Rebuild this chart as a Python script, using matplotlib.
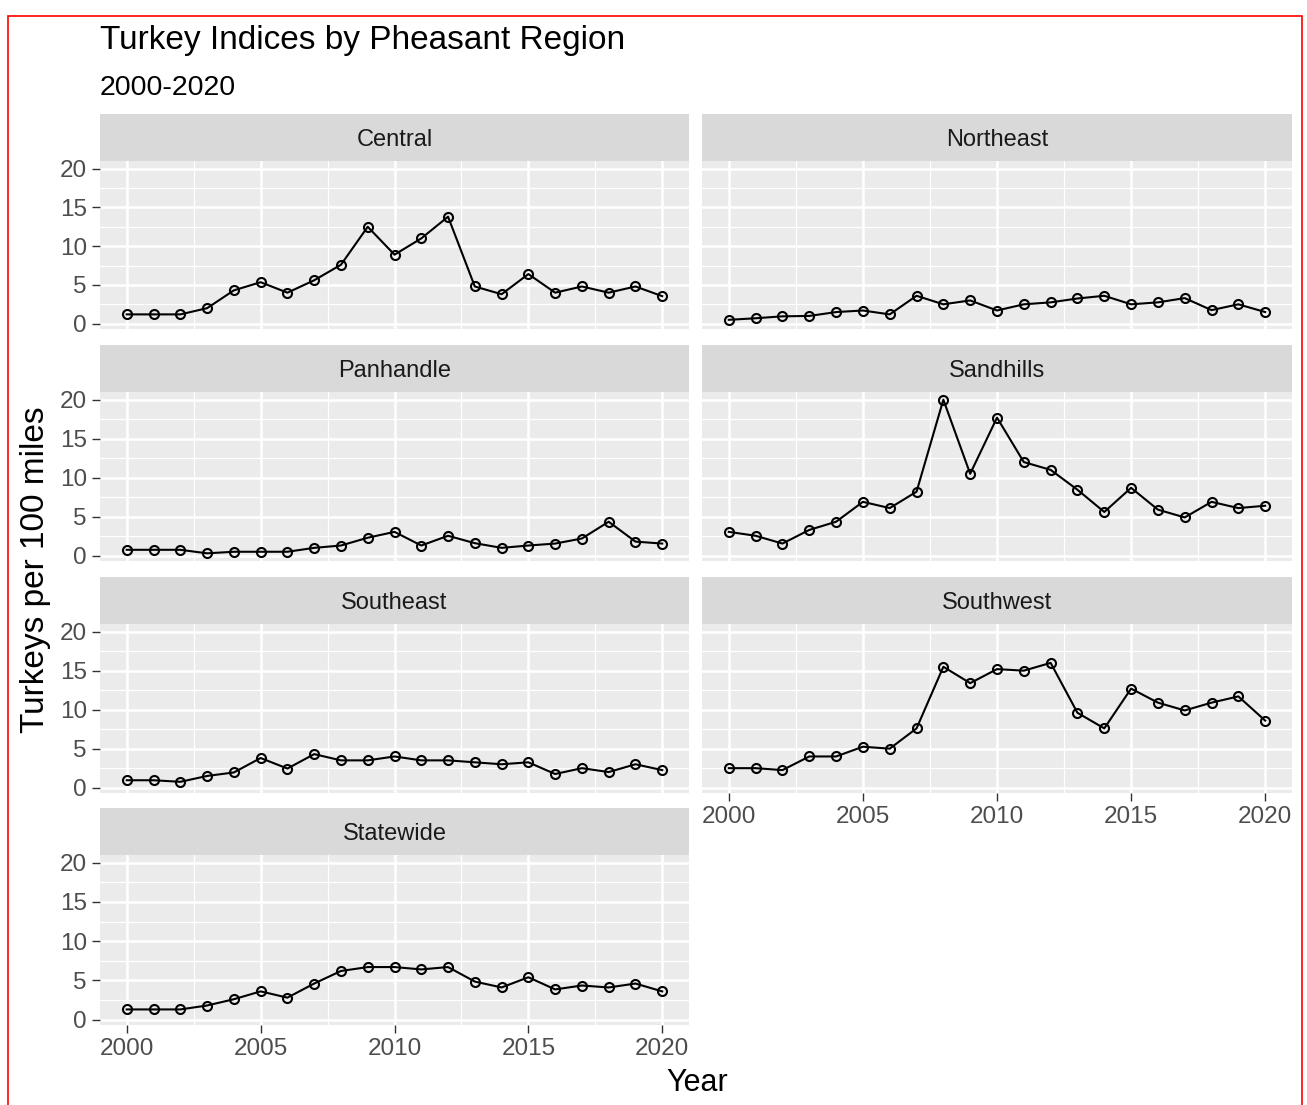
import numpy as np
import matplotlib
matplotlib.use('Agg')
import matplotlib.pyplot as plt
from matplotlib.patches import Rectangle

plt.rcParams['font.family'] = ['Liberation Sans', 'DejaVu Sans']

years = list(range(2000, 2021))

central = [1.2, 1.2, 1.2, 2.0, 4.3, 5.35, 4.0, 5.6, 7.6, 12.5, 8.9, 11.0, 13.8,
           4.8, 3.8, 6.4, 4.0, 4.8, 4.0, 4.8, 3.55]
northeast = [0.5, 0.7, 0.95, 1.0, 1.5, 1.7, 1.2, 3.6, 2.5, 3.0, 1.7, 2.5, 2.75,
             3.25, 3.6, 2.5, 2.75, 3.3, 1.75, 2.5, 1.5]
panhandle = [0.75, 0.75, 0.75, 0.3, 0.5, 0.5, 0.5, 1.0, 1.3, 2.3, 3.05, 1.3, 2.55,
             1.6, 1.0, 1.3, 1.55, 2.2, 4.35, 1.8, 1.55]
sandhills = [3.05, 2.55, 1.55, 3.3, 4.35, 6.9, 6.1, 8.2, 20.0, 10.5, 17.7, 12.0, 11.0,
             8.45, 5.6, 8.7, 5.9, 4.9, 6.9, 6.1, 6.4]
southeast = [0.95, 0.95, 0.75, 1.5, 1.95, 3.8, 2.45, 4.3, 3.5, 3.5, 4.0, 3.5, 3.5,
             3.25, 3.0, 3.25, 1.75, 2.5, 2.0, 3.0, 2.25]
southwest = [2.5, 2.5, 2.25, 4.0, 4.0, 5.25, 5.0, 7.6, 15.5, 13.4, 15.2, 15.0, 16.0,
             9.6, 7.6, 12.7, 10.9, 9.9, 10.9, 11.7, 8.6]
statewide = [1.3, 1.3, 1.3, 1.8, 2.6, 3.6, 2.8, 4.6, 6.2, 6.7, 6.7, 6.4, 6.7,
             4.85, 4.1, 5.4, 3.85, 4.35, 4.1, 4.6, 3.6]

regions = ['Central', 'Northeast', 'Panhandle', 'Sandhills', 'Southeast', 'Southwest', 'Statewide']
series = [central, northeast, panhandle, sandhills, southeast, southwest, statewide]

y_ticks = [0, 5, 10, 15, 20]
x_ticks = [2000, 2005, 2010, 2015, 2020]

W, H = 1307, 1105
fig = plt.figure(figsize=(W / 100, H / 100), dpi=100)

# red frame round the figure (bottom edge is cut off in the original)
fig.add_artist(Rectangle((8 / W, -0.01), (1302 - 8) / W, 1.01 - 16 / H,
                         transform=fig.transFigure, fill=False, edgecolor='#FF0000', lw=1.2))

# pixel layout of the facet grid
cols = [(100, 689), (702, 1292)]
rows = [(161, 329), (392, 561), (624, 793), (855, 1025)]
strip_h = 47

# shared scales with ggplot-like 5% expansion
all_vals = np.concatenate([np.array(s) for s in series])
yr = all_vals.max() - all_vals.min()
ylim = (all_vals.min() - 0.05 * yr, all_vals.max() + 0.05 * yr)
xlim = (years[0] - 1, years[-1] + 1)


def px_box(x0, x1, top, bottom):
    return [x0 / W, 1 - bottom / H, (x1 - x0) / W, (bottom - top) / H]


for i, (name, vals) in enumerate(zip(regions, series)):
    r, c = divmod(i, 2)
    x0, x1 = cols[c]
    top, bottom = rows[r]

    # strip
    sax = fig.add_axes(px_box(x0, x1, top - strip_h, top))
    sax.set_facecolor('#D9D9D9')
    sax.set_xticks([])
    sax.set_yticks([])
    for sp in sax.spines.values():
        sp.set_visible(False)
    sax.text(0.5, 0.44, name, ha='center', va='center', fontsize=17, color='#1A1A1A')

    ax = fig.add_axes(px_box(x0, x1, top, bottom))
    ax.set_facecolor('#EBEBEB')
    for sp in ax.spines.values():
        sp.set_visible(False)
    ax.set_xlim(*xlim)
    ax.set_ylim(*ylim)
    ax.set_xticks(x_ticks)
    ax.set_xticks([2002.5, 2007.5, 2012.5, 2017.5], minor=True)
    ax.set_yticks(y_ticks)
    ax.set_yticks([2.5, 7.5, 12.5, 17.5], minor=True)
    ax.grid(which='major', color='white', lw=1.8)
    ax.grid(which='minor', color='white', lw=0.9)
    ax.set_axisbelow(True)
    ax.tick_params(which='major', length=5.5, width=1, color='#333333',
                   labelsize=17.5, labelcolor='#4D4D4D', pad=4)
    ax.tick_params(which='minor', length=0)

    # bottom axis only where nothing sits below
    if name in ('Southwest', 'Statewide'):
        ax.tick_params(axis='x', bottom=True, labelbottom=True)
    else:
        ax.tick_params(axis='x', bottom=False, labelbottom=False)
    if c == 1:
        ax.tick_params(axis='y', left=False, labelleft=False)

    ax.plot(years, vals, color='black', lw=1.5, zorder=3)
    ax.plot(years, vals, ls='none', marker='o', ms=6.5, mfc='none', mec='black', mew=1.5, zorder=4)

fig.text(100 / W, 1 - 40 / H, 'Turkey Indices by Pheasant Region', fontsize=24, va='center', ha='left')
fig.text(100 / W, 1 - 88 / H, '2000-2020', fontsize=20.5, va='center', ha='left')
fig.text(697 / W, 1 - 1083 / H, 'Year', fontsize=22, va='center', ha='center')
fig.text(36 / W, 1 - 570 / H, 'Turkeys per 100 miles', fontsize=24, va='center', ha='center', rotation=90)

fig.savefig('out.png', dpi=100)
